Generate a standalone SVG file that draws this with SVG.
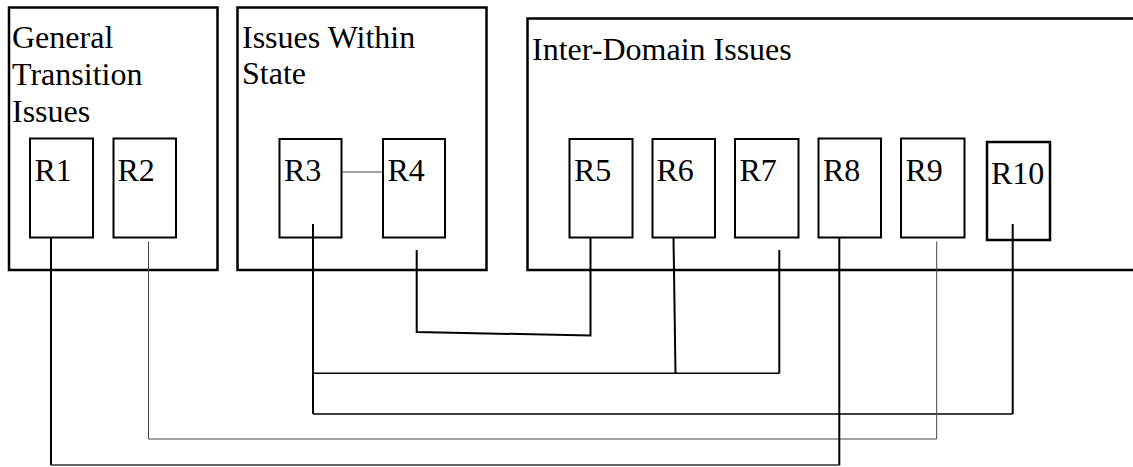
<svg xmlns="http://www.w3.org/2000/svg" width="1133" height="467" viewBox="0 0 1133 467">
  <style>
    .group { fill: #fff; stroke: #000; stroke-width: 2.5; }
    .req { fill: #fff; stroke: #000; stroke-width: 2; }
    text { font-size: 32px; fill: #000; }
    .wire { fill: none; stroke: #000; stroke-width: 2; }
    .thin { fill: none; stroke: #444; stroke-width: 1; }
  </style>
  <rect width="1133" height="467" fill="#fff"/>

  <g font-family="Liberation Serif, Tinos, DejaVu Serif, serif">
  <!-- category groups -->
  <g id="general-transition">
    <rect class="group" x="9" y="7.5" width="208.5" height="262.5"/>
    <text x="12" y="48">General<tspan x="12" dy="36.8">Transition</tspan><tspan x="12" dy="36.8">Issues</tspan></text>
  </g>
  <g id="within-state">
    <rect class="group" x="237.5" y="7.5" width="249" height="262.5"/>
    <text x="242" y="48">Issues Within<tspan x="242" dy="36">State</tspan></text>
  </g>
  <g id="inter-domain">
    <rect class="group" x="527.5" y="18.5" width="615" height="251.5"/>
    <text x="532" y="60">Inter-Domain Issues</text>
  </g>

  <!-- requirement boxes -->
  <g id="r1"><rect class="req" x="30" y="138.5" width="63" height="99"/><text x="34.5" y="181">R1</text></g>
  <g id="r2"><rect class="req" x="113.5" y="138.5" width="62.5" height="99"/><text x="117.5" y="181">R2</text></g>
  <g id="r3"><rect class="req" x="279.5" y="139" width="62" height="98.5"/><text x="284" y="181">R3</text></g>
  <g id="r4"><rect class="req" x="383" y="139" width="62" height="98.5"/><text x="387.5" y="181">R4</text></g>
  <g id="r5"><rect class="req" x="569.5" y="139" width="63" height="98.5"/><text x="574" y="181">R5</text></g>
  <g id="r6"><rect class="req" x="652.5" y="139" width="62.5" height="98.5"/><text x="656.5" y="181">R6</text></g>
  <g id="r7"><rect class="req" x="735" y="139" width="63.5" height="98.5"/><text x="739.5" y="181">R7</text></g>
  <g id="r8"><rect class="req" x="818.5" y="138.5" width="62.5" height="99"/><text x="823" y="181">R8</text></g>
  <g id="r9"><rect class="req" x="901" y="138.5" width="63.5" height="99"/><text x="905.5" y="181">R9</text></g>
  <g id="r10"><rect class="req" x="987" y="142" width="63" height="98" style="stroke-width:2.5"/><text x="991" y="184">R10</text></g>
  </g>

  <!-- links between requirements -->
  <g id="connectors">
    <line class="thin" x1="341.5" y1="172" x2="383" y2="172"/>
    <!-- R4 to R5 -->
    <path class="wire" d="M416.7 250 V332 L590.5 335.5 V237.5"/>
    <!-- R3, R6, R7 bus -->
    <path class="wire" d="M313 224 V414"/>
    <line x1="313" y1="373.3" x2="779.3" y2="373.3" stroke="#000" stroke-width="1.5"/>
    <line class="wire" x1="673.5" y1="237.5" x2="675.5" y2="373.3"/>
    <line class="wire" x1="779.3" y1="250" x2="779.3" y2="373.3"/>
    <!-- R3 to R10 -->
    <line x1="313" y1="414" x2="1012.7" y2="414" stroke="#000" stroke-width="1.3"/>
    <line class="wire" x1="1012.7" y1="224" x2="1012.7" y2="414"/>
    <!-- R2 to R9 -->
    <path class="thin" d="M148.5 241.5 V439 H936.7 V241.5"/>
    <!-- R1 to R8 -->
    <line class="wire" x1="51" y1="237.5" x2="51" y2="465.3"/>
    <line class="wire" x1="839.3" y1="237.5" x2="839.3" y2="465.3"/>
    <line x1="51" y1="465" x2="839.3" y2="465" stroke="#333" stroke-width="1.5"/>
  </g>
</svg>
